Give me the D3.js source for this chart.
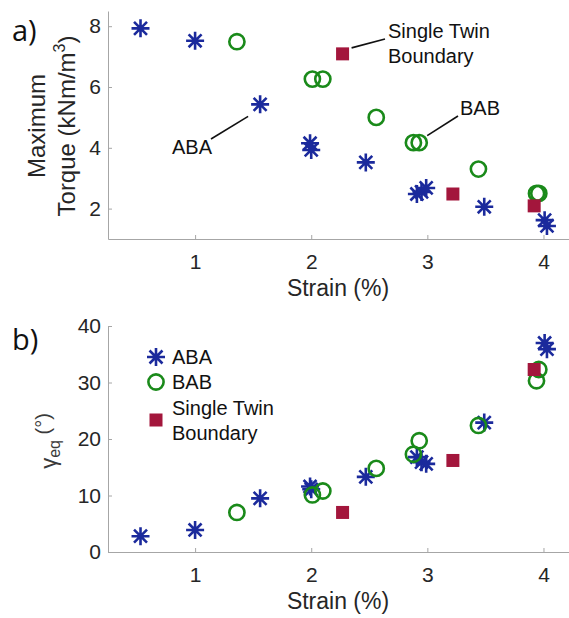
<!DOCTYPE html>
<html>
<head>
<meta charset="utf-8">
<script src="https://cdn.jsdelivr.net/npm/d3@7"></script>
<style>
    body { margin: 0; background: #fff; }
    svg { display: block; font-family: 'Liberation Sans', Arial, sans-serif; }
</style>
</head>
<body>
<svg id="chart" width="569" height="618"></svg>
<script>
// values, same point order in both panels
const strainABA = [0.53, 1.00, 1.56, 1.99, 2.00, 2.47, 2.91, 2.95, 2.99, 3.49, 4.01, 4.03]
const torqueABA = [7.93, 7.52, 5.43, 4.15, 3.93, 3.52, 2.48, 2.55, 2.68, 2.06, 1.62, 1.43]
const gammaABA = [2.8, 3.9, 9.5, 11.6, 11.1, 13.3, 16.8, 15.9, 15.6, 22.9, 37.0, 35.9]

const strainBAB = [1.36, 2.01, 2.10, 2.56, 2.88, 2.93, 3.44, 3.94, 3.96]
const torqueBAB = [7.49, 6.26, 6.26, 5.00, 4.17, 4.17, 3.30, 2.50, 2.50]
const gammaBAB = [7.0, 10.1, 10.8, 14.8, 17.3, 19.7, 22.4, 30.3, 32.3]

const strainSTB = [2.27, 3.22, 3.92]
const torqueSTB = [7.09, 2.48, 2.09]
const gammaSTB = [7.0, 16.2, 32.3]

const strainTicks = [1, 2, 3, 4]
const torqueTicks = [2, 4, 6, 8]
const gammaTicks = [0, 10, 20, 30, 40]

const series = [
    { name: 'ABA', label: ['ABA'], marker: 'asterisk', color: '#1b2a9c', strain: strainABA, torque: torqueABA, gamma: gammaABA },
    { name: 'BAB', label: ['BAB'], marker: 'circle', color: '#1a8a1a', strain: strainBAB, torque: torqueBAB, gamma: gammaBAB },
    { name: 'STB', label: ['Single Twin', 'Boundary'], marker: 'square', color: '#a3163c', strain: strainSTB, torque: torqueSTB, gamma: gammaSTB }
]

const svg = d3.select('#chart')
const axisColor = '#a6a6a6'
const textColor = '#262626'

const x = d3.scaleLinear().domain([0.25, 4.25]).range([108, 572.5])
const yTorque = d3.scaleLinear().domain([1, 8.5]).range([239, 11])
const yGamma = d3.scaleLinear().domain([0, 40]).range([552, 326])

function drawMarker(g, type, color) {
    if (type === 'asterisk') {
        let r = 9, d = r * 0.72
        g.append('path')
            .attr('d', `M0,${-r}V${r}M${-r},0H${r}M${-d},${-d}L${d},${d}M${-d},${d}L${d},${-d}`)
            .attr('stroke', color)
            .attr('stroke-width', 2.6)
            .attr('fill', 'none')
    }
    else if (type === 'circle') {
        g.append('circle')
            .attr('r', 7.6)
            .attr('fill', 'none')
            .attr('stroke', color)
            .attr('stroke-width', 2.6)
    }
    else {
        g.append('rect')
            .attr('x', -6.5).attr('y', -6.5)
            .attr('width', 13).attr('height', 13)
            .attr('fill', color)
    }
}

function drawAxes(y, yTicks) {
    let bottom = y.range()[0]
    let left = x.range()[0]

    let gx = svg.append('g')
        .attr('transform', `translate(0, ${bottom})`)
        .call(d3.axisBottom(x).tickValues(strainTicks).tickFormat(d3.format('d'))
            .tickSizeInner(-4).tickSizeOuter(0).tickPadding(15))
    let gy = svg.append('g')
        .attr('transform', `translate(${left}, 0)`)
        .call(d3.axisLeft(y).tickValues(yTicks).tickFormat(d3.format('d'))
            .tickSizeInner(-4).tickSizeOuter(0).tickPadding(7))

    for (let g of [gx, gy]) {
        g.select('.domain').attr('stroke', axisColor)
        g.selectAll('.tick line').attr('stroke', axisColor)
        g.selectAll('.tick text')
            .attr('fill', textColor)
            .attr('font-size', 21)
            .attr('font-family', "'Liberation Sans', Arial, sans-serif")
    }

    svg.append('text')
        .attr('x', 338)
        .attr('y', bottom + 57)
        .attr('text-anchor', 'middle')
        .attr('font-size', 23)
        .attr('fill', textColor)
        .text('Strain (%)')
}

function drawPoints(y, key) {
    series.forEach(s => {
        svg.append('g')
            .selectAll('g')
            .data(s.strain.map((v, i) => [v, s[key][i]]))
            .join('g')
            .attr('transform', d => `translate(${x(d[0])}, ${y(d[1])})`)
            .each(function () { drawMarker(d3.select(this), s.marker, s.color) })
    })
}

// panel a)
drawAxes(yTorque, torqueTicks)
drawPoints(yTorque, 'torque')

svg.append('text')
    .attr('transform', 'translate(45, 126) rotate(-90)')
    .attr('text-anchor', 'middle')
    .attr('font-size', 24)
    .attr('fill', textColor)
    .text('Maximum')

let torqueLabel = svg.append('text')
    .attr('transform', 'translate(75, 126) rotate(-90)')
    .attr('text-anchor', 'middle')
    .attr('font-size', 24)
    .attr('fill', textColor)
torqueLabel.append('tspan').text('Torque (kNm/m')
torqueLabel.append('tspan').attr('font-size', 16).attr('dy', -10).text('3')
torqueLabel.append('tspan').attr('dy', 10).text(')')

// callouts: text position, then the data point the leader points at
const callouts = [
    { lines: ['ABA'], tx: 172, ty: 154, target: [strainABA[2], torqueABA[2]], off: [-12, 12], from: [211, 139] },
    { lines: ['Single Twin', 'Boundary'], tx: 388, ty: 38, target: [strainSTB[0], torqueSTB[0]], off: [9, -6], from: [385, 39] },
    { lines: ['BAB'], tx: 460, ty: 115, target: [strainBAB[5], torqueBAB[5]], off: [8, -7], from: [458, 116] }
]

callouts.forEach(c => {
    svg.append('line')
        .attr('x1', c.from[0]).attr('y1', c.from[1])
        .attr('x2', x(c.target[0]) + c.off[0]).attr('y2', yTorque(c.target[1]) + c.off[1])
        .attr('stroke', '#111')
        .attr('stroke-width', 1.6)
    svg.append('text')
        .attr('x', c.tx).attr('y', c.ty)
        .attr('font-size', 20)
        .attr('fill', '#111')
        .selectAll('tspan')
        .data(c.lines)
        .join('tspan')
        .attr('x', c.tx)
        .attr('dy', (d, i) => i ? 25 : 0)
        .text(d => d)
})

// panel b)
drawAxes(yGamma, gammaTicks)
drawPoints(yGamma, 'gamma')

let gammaLabel = svg.append('text')
    .attr('transform', 'translate(56, 441) rotate(-90)')
    .attr('text-anchor', 'middle')
    .attr('font-size', 22)
    .attr('fill', '#3a3a3a')
gammaLabel.append('tspan').text('γ')
gammaLabel.append('tspan').attr('font-size', 16).attr('dy', 4).text('eq')
gammaLabel.append('tspan').attr('font-size', 20).attr('dy', -10).text(' (°)')

// legend
const legendRows = [357, 382, 420]
series.forEach((s, i) => {
    let g = svg.append('g').attr('transform', `translate(156, ${legendRows[i]})`)
    drawMarker(g, s.marker, s.color)
    svg.append('text')
        .attr('x', 172)
        .attr('y', legendRows[i] + 7 - (s.label.length - 1) * 12.5)
        .attr('font-size', 20)
        .attr('fill', '#111')
        .selectAll('tspan')
        .data(s.label)
        .join('tspan')
        .attr('x', 172)
        .attr('dy', (d, j) => j ? 25 : 0)
        .text(d => d)
})

// panel letters
svg.append('text').attr('x', 12).attr('y', 41)
    .attr('font-family', "'Open Sans', sans-serif").attr('font-size', 29).attr('fill', '#111')
    .text('a)')
svg.append('text').attr('x', 12).attr('y', 350)
    .attr('font-family', "'Open Sans', sans-serif").attr('font-size', 29).attr('fill', '#111')
    .text('b)')
</script>
</body>
</html>
